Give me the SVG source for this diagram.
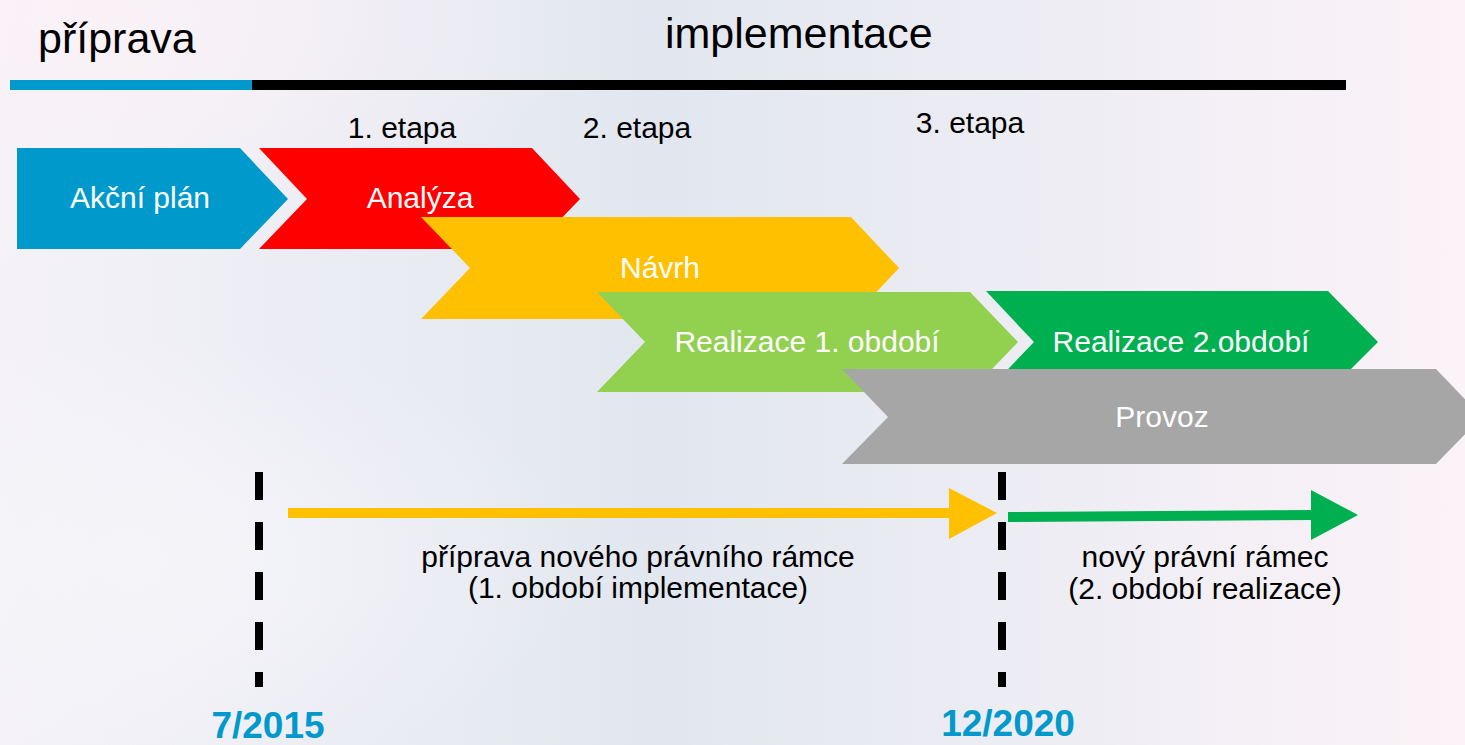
<svg xmlns="http://www.w3.org/2000/svg" width="1465" height="745" viewBox="0 0 1465 745">
<defs>
<linearGradient id="bg" x1="0" y1="0" x2="1" y2="0">
<stop offset="0" stop-color="#F4F2F8"/>
<stop offset="0.45" stop-color="#E2E7EF"/>
<stop offset="0.72" stop-color="#EEEDF4"/>
<stop offset="1" stop-color="#FBF3F8"/>
</linearGradient>
<radialGradient id="tl" cx="0.05" cy="0.02" r="0.35">
<stop offset="0" stop-color="#FBF2F7" stop-opacity="0.9"/>
<stop offset="1" stop-color="#FBF2F7" stop-opacity="0"/>
</radialGradient>
<radialGradient id="bl" cx="0.1" cy="0.75" r="0.3">
<stop offset="0" stop-color="#F6F6FA" stop-opacity="0.8"/>
<stop offset="1" stop-color="#F6F6FA" stop-opacity="0"/>
</radialGradient>
</defs>
<style>
text{font-family:"Liberation Sans",Arial,sans-serif}
.lbl{font-size:30px;fill:#FFFFFF;text-anchor:middle}
.blk{font-size:30px;fill:#000000;text-anchor:middle}
.hd{font-size:43px;fill:#000000}
.date{font-size:37px;font-weight:bold;fill:#0099CC;text-anchor:middle}
.dash{stroke:#000000;stroke-width:8;stroke-dasharray:28 22;fill:none}
</style>
<rect width="1465" height="745" fill="url(#bg)"/>
<rect width="1465" height="745" fill="url(#tl)"/>
<rect width="1465" height="745" fill="url(#bl)"/>

<g id="header">
<text class="hd" x="38" y="53">příprava</text>
<text class="hd" x="665" y="48">implementace</text>
<rect x="10" y="80" width="242" height="10" fill="#0099CC"/>
<rect x="252" y="80" width="1094" height="10" fill="#000000"/>
<text class="blk" x="402" y="138">1. etapa</text>
<text class="blk" x="637" y="138">2. etapa</text>
<text class="blk" x="970" y="133">3. etapa</text>
</g>

<g id="akcni-plan">
<path d="M17,148 H240 L288,199 L240,249 H17 Z" fill="#0099CC"/>
<text class="lbl" x="140" y="208">Akční plán</text>
</g>
<g id="analyza">
<path d="M259,148 H532 L580,199 L532,249 H259 L307,199 Z" fill="#FF0000"/>
<text class="lbl" x="420" y="208">Analýza</text>
</g>
<g id="navrh">
<path d="M421,217 H851 L899,268 L851,319 H421 L470,268 Z" fill="#FFC000"/>
<text class="lbl" x="660" y="278">Návrh</text>
</g>
<g id="realizace1">
<path d="M597,292 H970 L1018,342 L970,392 H597 L645,342 Z" fill="#92D050"/>
<text class="lbl" x="807" y="352">Realizace 1. období</text>
</g>
<g id="realizace2">
<path d="M986,291 H1328 L1378,342 L1328,392 H986 L1034,342 Z" fill="#00B050"/>
<text class="lbl" x="1181" y="352">Realizace 2.období</text>
</g>
<g id="provoz">
<path d="M842,369 H1436 L1482,417 L1436,464 H842 L888,417 Z" fill="#A6A6A6"/>
<text class="lbl" x="1162" y="427">Provoz</text>
</g>

<g id="connectors">
<line class="dash" x1="259" y1="472" x2="259" y2="687"/>
<line class="dash" x1="1002" y1="472" x2="1002" y2="687"/>
<line x1="288" y1="513" x2="952" y2="513" stroke="#FFC000" stroke-width="10"/>
<polygon points="949,488 997,513 949,539" fill="#FFC000"/>
<line x1="1008" y1="517" x2="1314" y2="515" stroke="#00B050" stroke-width="10"/>
<polygon points="1311,490 1358,515 1311,540" fill="#00B050"/>
</g>

<g id="labels">
<text class="blk" x="638" y="567">příprava nového právního rámce</text>
<text class="blk" x="638" y="598">(1. období implementace)</text>
<text class="blk" x="1205" y="567">nový právní rámec</text>
<text class="blk" x="1205" y="599">(2. období realizace)</text>
<text class="date" x="268" y="738">7/2015</text>
<text class="date" x="1008" y="736">12/2020</text>
</g>
</svg>
